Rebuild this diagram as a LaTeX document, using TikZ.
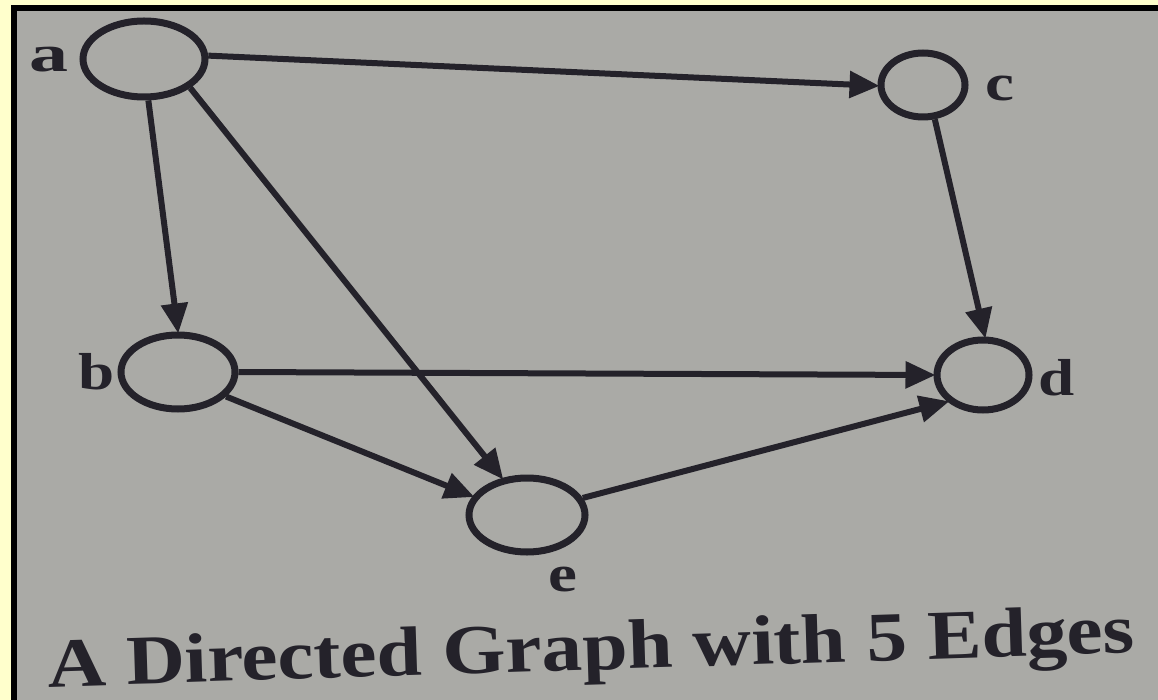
\documentclass[tikz,border=0pt]{standalone}
\usepackage{fontspec}
\setmainfont{Liberation Serif}
\usetikzlibrary{shapes.geometric,arrows.meta}
\definecolor{paper}{RGB}{170,170,166}
\definecolor{ink}{RGB}{36,34,42}
\definecolor{frameyellow}{RGB}{255,255,204}
\begin{document}
\begin{tikzpicture}[x=1pt,y=-1pt,
  vtx/.style={draw=ink, line width=7pt, ellipse, inner sep=0pt},
  edge/.style={draw=ink, line width=6pt, -{Triangle[length=30pt,width=26pt]}, shorten >=-2pt},
  lbl/.style={text=ink, font=\bfseries\fontsize{52}{52}\selectfont, inner sep=0pt},
  captionstyle/.style={text=ink, font=\bfseries\fontsize{70}{70}\selectfont, inner sep=0pt, anchor=base west}]
\useasboundingbox (0,0) rectangle (1158,700);
\fill[frameyellow] (0,0) rectangle (1158,700);
\fill[black] (11,5) rectangle (1158,700);
\fill[paper] (17,11) rectangle (1158,700);
% vertices
\node[vtx, minimum width=122pt, minimum height=76pt] (a) at (144,59) {};
\node[vtx, minimum width=84pt, minimum height=64pt] (c) at (923,85) {};
\node[vtx, minimum width=114pt, minimum height=74pt] (b) at (178,372) {};
\node[vtx, minimum width=92pt, minimum height=70pt] (d) at (983,375) {};
\node[vtx, minimum width=116pt, minimum height=74pt] (e) at (527,515) {};
% labels
\node[lbl] (la) at (49,60) {\scalebox{1.5}[1]{a}};
\node[lbl] (lb) at (97,372) {\scalebox{1.25}[1]{b}};
\node[lbl] (lc) at (1000,88) {\scalebox{1.25}[1]{c}};
\node[lbl] (ld) at (1057,378) {\scalebox{1.25}[1]{d}};
\node[lbl] (le) at (563,580) {\scalebox{1.25}[1]{e}};
% edges
\draw[edge] (a.3) -- (c.181);
\draw[edge] (a.-84) -- (b.90);
\draw[edge] (a.-32) -- (e.124);
\draw[edge] (c.-71) -- (d.87);
\draw[edge] (b.0) -- (d.180);
\draw[edge] (b.-27) -- (e.161);
\draw[edge] (e.17) -- (d.-143);
% caption
\node[captionstyle, rotate=1.8] (caption) at (48,687) {\scalebox{1.16}[1]{A Directed Graph with 5 Edges}};
\end{tikzpicture}
\end{document}
